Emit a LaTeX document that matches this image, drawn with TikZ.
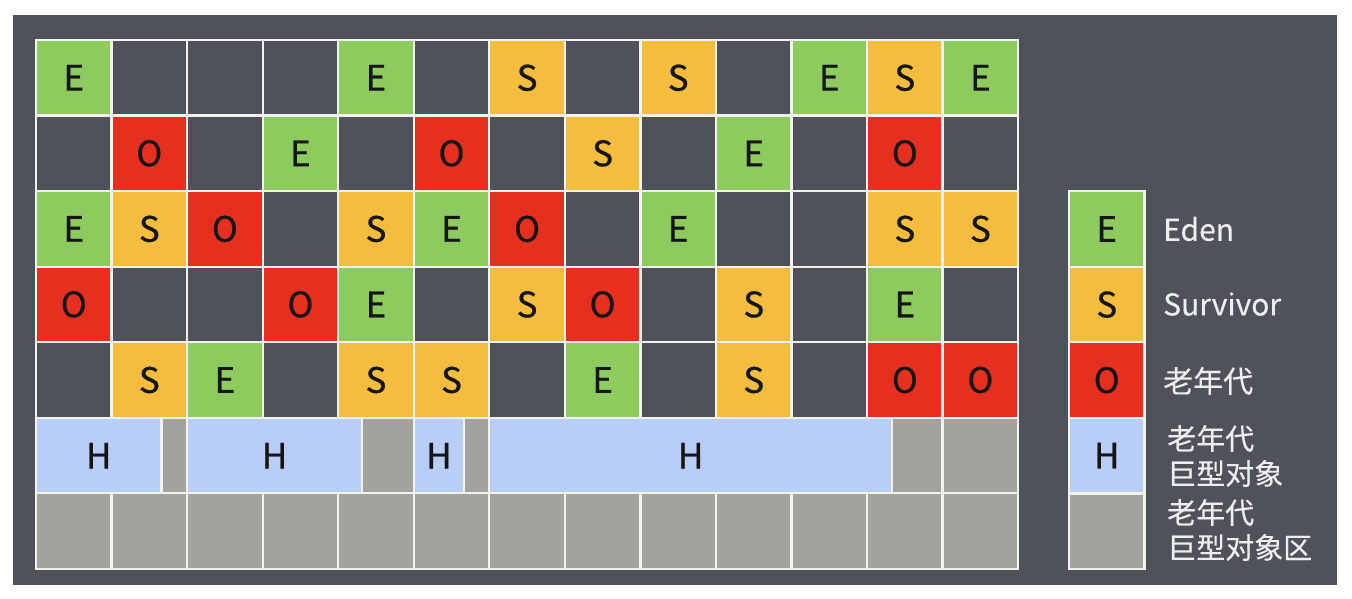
\documentclass[tikz,border=0pt]{standalone}
\usepackage{fontspec}
\setmainfont{Noto Sans CJK SC}
\newfontfamily\letterfont[FakeBold=0.6]{Noto Sans CJK SC}
\newfontfamily\labelfont[FakeBold=0.3]{Noto Sans CJK SC}
\definecolor{bgdark}{HTML}{4F525A}
\definecolor{egreen}{HTML}{8ECB5F}
\definecolor{syellow}{HTML}{F4BD3D}
\definecolor{ored}{HTML}{E6301F}
\definecolor{hblue}{HTML}{B8CEF6}
\definecolor{rgray}{HTML}{A4A29D}
\definecolor{gridline}{HTML}{F2F2EE}
\definecolor{labtext}{HTML}{EEEEEE}
\definecolor{lettertext}{HTML}{151515}
\begin{document}
\begin{tikzpicture}[x=1pt,y=-1pt,
  cell/.style={draw=gridline, line width=2.3pt, minimum width=75.55pt, minimum height=75.55pt,
    inner sep=0pt, outer sep=0pt, font=\letterfont\fontsize{35}{40}\selectfont, text=lettertext},
  cellE/.style={fill=egreen, node contents=E},
  cellS/.style={fill=syellow, node contents=S},
  cellO/.style={fill=ored, node contents=O},
  cellN/.style={fill=bgdark, node contents={}},
  cellG/.style={fill=rgray, node contents={}},
  hblock/.style={draw=gridline, line width=2.3pt, fill=hblue, minimum height=75.55pt,
    inner sep=0pt, outer sep=0pt, font=\letterfont\fontsize{35}{40}\selectfont, text=lettertext},
  gblock/.style={draw=gridline, line width=2.3pt, fill=rgray, minimum height=75.55pt,
    inner sep=0pt, outer sep=0pt},
  legtext/.style={anchor=west, text=labtext, font=\labelfont\fontsize{30}{36}\selectfont, inner sep=0pt},
  leg2text/.style={anchor=west, text=labtext, font=\labelfont\fontsize{29}{35}\selectfont, inner sep=0pt, align=left}
]
\useasboundingbox (0,0) rectangle (1352,598);
\fill[white] (0,0) rectangle (1352,598);
\fill[bgdark] (13,15) rectangle (1337,585);

% main grid rows 1-5
\foreach \rowlist [count=\r] in {
  {E,N,N,N,E,N,S,N,S,N,E,S,E},
  {N,O,N,E,N,O,N,S,N,E,N,O,N},
  {E,S,O,N,S,E,O,N,E,N,N,S,S},
  {O,N,N,O,E,N,S,O,N,S,N,E,N},
  {N,S,E,N,S,S,N,E,N,S,N,O,O}} {
  \foreach \l [count=\c] in \rowlist {
    \node (g-\r-\c) at ({36+(\c-0.5)*75.55},{40+(\r-0.5)*75.55}) [cell, cell\l];
  }
}

% row 6: humongous objects
\node[gblock, minimum width=25.6pt]  (g6a) at (174.3,455.7) {};
\node[gblock, minimum width=51.75pt] (g6b) at (387.9,455.7) {};
\node[gblock, minimum width=25.3pt]  (g6c) at (476.65,455.7) {};
\node[gblock, minimum width=50.6pt]  (g6d) at (917.3,455.7) {};
\node[gblock, minimum width=75.55pt] (g6e) at (980.4,455.7) {};
\node[hblock, minimum width=125.5pt] (h1) at (98.75,455.7) {H};
\node[hblock, minimum width=174.9pt] (h2) at (274.55,455.7) {H};
\node[hblock, minimum width=50.25pt] (h3) at (438.9,455.7) {H};
\node[hblock, minimum width=402.7pt] (h4) at (690.65,455.7) {H};

% row 7: humongous region
\foreach \c in {1,...,13} {
  \node (g-7-\c) at ({36+(\c-0.5)*75.55},{40+6.5*75.55}) [cell, cellG];
}

% legend
\node (lE) at (1106.75,229.0) [cell, cellE];
\node (lS) at (1106.75,304.55) [cell, cellS];
\node (lO) at (1106.75,380.1) [cell, cellO];
\node[hblock, minimum width=75.55pt] (lH) at (1106.75,455.65) {H};
\node (lG) at (1106.75,531.2) [cell, cellG];

\node[legtext] (tE) at (1163,229) {Eden};
\node[legtext] (tS) at (1163,304) {Survivor};
\node[legtext] (tO) at (1163,381) {老年代};
\node[leg2text] (tH) at (1167,456) {老年代\\巨型对象};
\node[leg2text] (tG) at (1167,530) {老年代\\巨型对象区};
\end{tikzpicture}
\end{document}
